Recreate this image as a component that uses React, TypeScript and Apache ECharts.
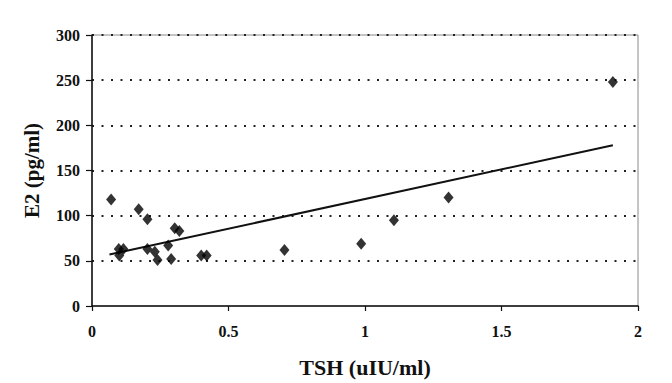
import React, { useEffect, useRef } from "react";
import * as echarts from "echarts";

const tshValues = [0.07, 0.098, 0.1, 0.115, 0.171, 0.203, 0.203, 0.23, 0.24, 0.279, 0.29, 0.303, 0.32, 0.4, 0.42, 0.705, 0.986, 1.106, 1.306, 1.908];
const e2Values = [118, 63, 56, 63, 107, 96, 63, 60, 51, 67, 52, 86, 83, 56, 56, 62, 69, 95, 120, 248];
const trendX = [0.064, 1.908];
const trendY = [57, 178];
const xTicks = [0, 0.5, 1, 1.5, 2];
const yTicks = [0, 50, 100, 150, 200, 250, 300];

const FONT = "'Liberation Serif', 'DejaVu Serif', serif";

export default function App() {
  const ref = useRef<HTMLDivElement>(null);
  useEffect(() => {
    if (!ref.current) return;
    const chart = echarts.init(ref.current, null, { renderer: "svg" });
    const points = tshValues.map((x, i) => [x, e2Values[i]]);
    const trend = trendX.map((x, i) => [x, trendY[i]]);
    chart.setOption({
      animation: false,
      backgroundColor: "#ffffff",
      grid: {
        left: 92,
        right: 34,
        top: 35,
        bottom: 73,
        show: true,
        borderColor: "#8a8a8a",
        borderWidth: 1,
        backgroundColor: "transparent",
      },
      xAxis: {
        type: "value",
        min: xTicks[0],
        max: xTicks[xTicks.length - 1],
        interval: 0.5,
        name: "TSH (uIU/ml)",
        nameLocation: "middle",
        nameGap: 50,
        nameTextStyle: { fontFamily: FONT, fontWeight: "bold", fontSize: 22, color: "#111" },
        axisLine: { show: true, onZero: false, lineStyle: { color: "#111", width: 1.5 } },
        axisTick: { show: true, inside: false, length: 5, lineStyle: { color: "#111", width: 1.2 } },
        axisLabel: {
          margin: 17,
          fontFamily: FONT,
          fontWeight: "bold",
          fontSize: 16,
          color: "#111",
          formatter: (v: number) => String(v),
        },
        splitLine: { show: false },
      },
      yAxis: {
        type: "value",
        min: yTicks[0],
        max: yTicks[yTicks.length - 1],
        interval: 50,
        name: "E2 (pg/ml)",
        nameLocation: "middle",
        nameGap: 50,
        nameRotate: 90,
        nameTextStyle: { fontFamily: FONT, fontWeight: "bold", fontSize: 21, color: "#111" },
        axisLine: { show: true, onZero: false, lineStyle: { color: "#111", width: 1.5 } },
        axisTick: { show: true, inside: false, length: 6, lineStyle: { color: "#111", width: 1.2 } },
        axisLabel: {
          margin: 12,
          fontFamily: FONT,
          fontWeight: "bold",
          fontSize: 16,
          color: "#111",
        },
        splitLine: {
          show: true,
          showMinLine: false,
          lineStyle: { color: "#222", width: 2, type: [2, 7.5] },
        },
      },
      series: [
        {
          type: "line",
          data: trend,
          showSymbol: false,
          symbol: "none",
          lineStyle: { color: "#111", width: 2 },
          silent: true,
          z: 3,
        },
        {
          type: "scatter",
          data: points,
          symbol: "diamond",
          symbolSize: [10, 12],
          itemStyle: { color: "#000" },
          z: 4,
        },
      ],
    });
    return () => chart.dispose();
  }, []);
  return (
    <div
      ref={ref}
      style={{ position: "fixed", left: 0, top: 0, width: 672, height: 383, background: "#fff" }}
    />
  );
}
